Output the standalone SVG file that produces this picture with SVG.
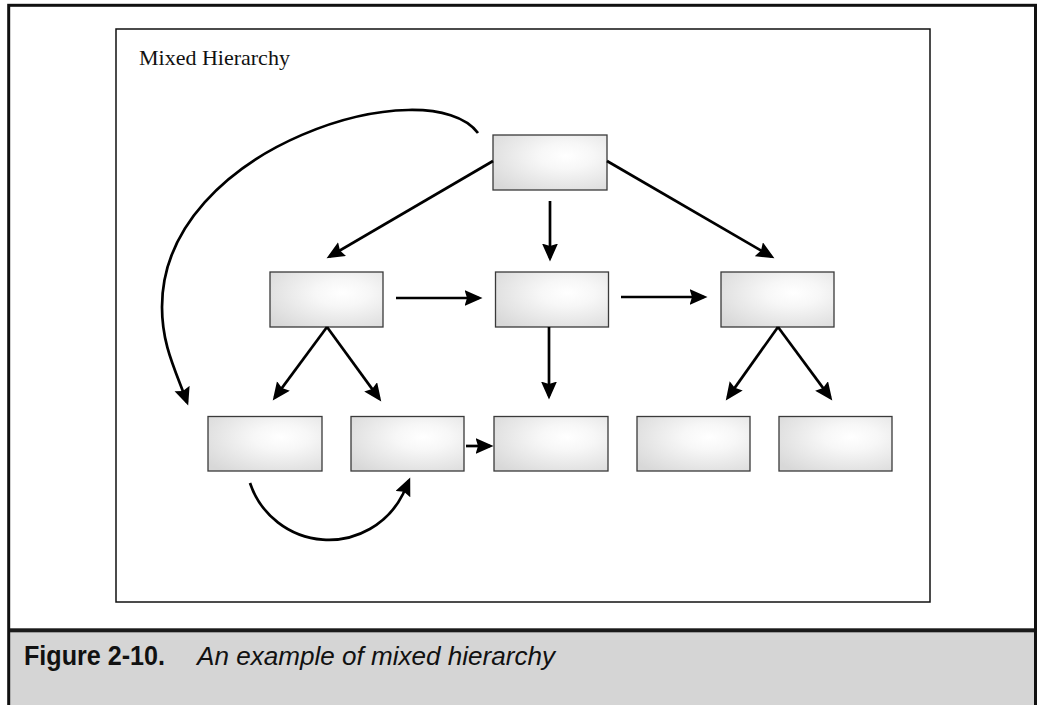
<svg xmlns="http://www.w3.org/2000/svg" width="1037" height="705" viewBox="0 0 1037 705">
  <defs>
    <radialGradient id="boxFill" cx="0.64" cy="0.38" r="0.8" fx="0.64" fy="0.38">
      <stop offset="0" stop-color="#ffffff"/>
      <stop offset="0.3" stop-color="#f7f7f7"/>
      <stop offset="1" stop-color="#d8d8d8"/>
    </radialGradient>
    <marker id="head" markerUnits="userSpaceOnUse" markerWidth="20" markerHeight="17" refX="14.5" refY="8" orient="auto">
      <path d="M0,0 L18,8 L0,16 L2.5,8 z" fill="#000"/>
    </marker>
    <style>
      .node { fill: url(#boxFill); stroke: #3a3a3a; stroke-width: 1.3; }
      .link { fill: none; stroke: #000; stroke-width: 2.7; marker-end: url(#head); }
      .title { font-family: "Liberation Serif", "Times New Roman", serif; font-size: 22px; fill: #111; }
      .capnum { font-family: "Liberation Sans", Arial, sans-serif; font-weight: bold; font-size: 27px; fill: #111; }
      .captxt { font-family: "Liberation Sans", Arial, sans-serif; font-style: italic; font-size: 26px; fill: #111; }
    </style>
  </defs>

  <!-- page background and outer frame -->
  <rect x="0" y="0" width="1037" height="705" fill="#fff"/>
  <rect x="10" y="632" width="1024" height="80" fill="#d5d5d5"/>
  <rect x="8.7" y="5.3" width="1026.8" height="710" fill="none" stroke="#111" stroke-width="3"/>
  <rect x="10" y="628.3" width="1024" height="4" fill="#1a1a1a"/>

  <!-- drawing panel -->
  <rect x="116" y="29" width="814" height="573" fill="#fff" stroke="#111" stroke-width="1.5"/>
  <text class="title" x="139" y="65">Mixed Hierarchy</text>

  <!-- caption -->
  <text class="capnum" x="24" y="665" textLength="141" lengthAdjust="spacingAndGlyphs">Figure 2-10.</text>
  <text class="captxt" x="197" y="665" textLength="358" lengthAdjust="spacingAndGlyphs">An example of mixed hierarchy</text>

  <!-- nodes -->
  <g id="root"><rect class="node" x="493" y="135" width="114" height="55"/></g>
  <g id="mid-left"><rect class="node" x="270" y="272" width="113" height="55"/></g>
  <g id="mid-center"><rect class="node" x="495.5" y="272" width="113" height="55"/></g>
  <g id="mid-right"><rect class="node" x="721" y="272" width="113" height="55"/></g>
  <g id="leaf-1"><rect class="node" x="208" y="416.5" width="114" height="54.5"/></g>
  <g id="leaf-2"><rect class="node" x="351" y="416.5" width="113" height="54.5"/></g>
  <g id="leaf-3"><rect class="node" x="494" y="416.5" width="114" height="54.5"/></g>
  <g id="leaf-4"><rect class="node" x="637" y="416.5" width="113" height="54.5"/></g>
  <g id="leaf-5"><rect class="node" x="779" y="416.5" width="113" height="54.5"/></g>

  <!-- connectors -->
  <g id="connectors">
    <path class="link" d="M493,161 L329.6,256.5"/>
    <path class="link" d="M607,161 L771.4,256.5"/>
    <path class="link" d="M550,201 L550,258"/>
    <path class="link" d="M396,298 L479,298"/>
    <path class="link" d="M621,297 L704,297"/>
    <path class="link" d="M327,327 L274.8,397.6"/>
    <path class="link" d="M327,327 L379.2,398.6"/>
    <path class="link" d="M549,327 L549,396"/>
    <path class="link" d="M778,327 L727.8,397.6"/>
    <path class="link" d="M778,327 L830.2,397.6"/>
    <path class="link" d="M466,446 L490,446"/>
    <path class="link" d="M478,133 C430,68 162,145 162,307 C162,345 175,369 187,402.2"/>
    <path class="link" d="M250,483 A83,83 0 0,0 403,494 L408.8,480.8"/>
  </g>
</svg>
